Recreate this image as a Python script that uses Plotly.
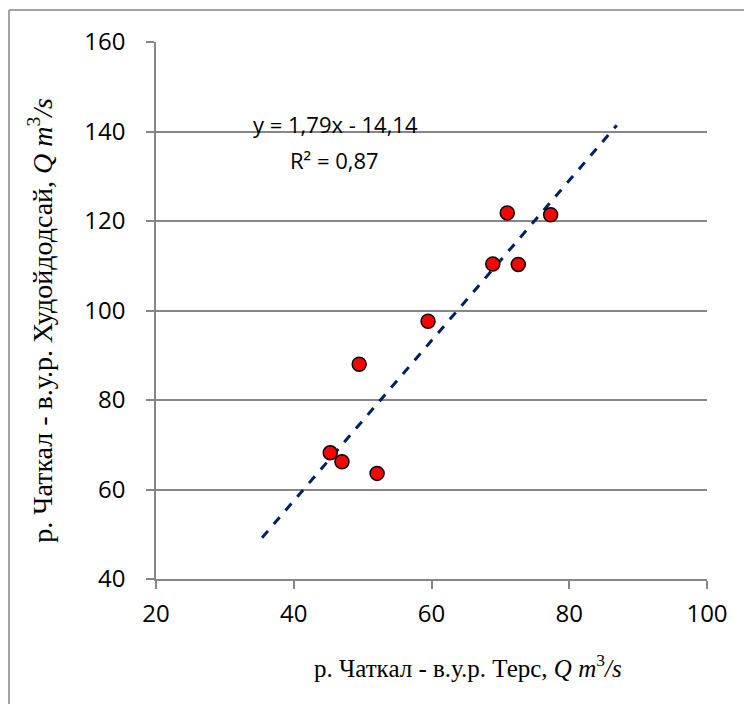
import plotly.graph_objects as go

# Data
x_ters = [45.3, 47.0, 52.1, 49.5, 59.5, 68.9, 72.6, 71.0, 77.3]
y_khudoidodsai = [68.2, 66.2, 63.6, 88.0, 97.6, 110.4, 110.3, 121.8, 121.4]

# Trendline from the chart's label y = 1,79x - 14,14, drawn over x range
slope = 1.79
intercept = -14.14
trend_x = [35.4, 86.9]
trend_y = [slope * v + intercept for v in trend_x]

x_ticks = [20, 40, 60, 80, 100]
y_ticks = [40, 60, 80, 100, 120, 140, 160]

# page body has an 8px margin; work in page coords and shift
OFF = 8
W, H = 744, 696
L, R, T, B = 156 - OFF, 707 - OFF, 42 - OFF, 579.5 - OFF

fig = go.Figure()
fig.add_trace(go.Scatter(
    x=trend_x, y=trend_y, mode="lines",
    line=dict(color="#002060", width=3, dash="dash"),
    hoverinfo="skip", showlegend=False,
))
fig.add_trace(go.Scatter(
    x=x_ters, y=y_khudoidodsai, mode="markers",
    marker=dict(size=14, color="#FF0000", line=dict(color="#000000", width=1.5)),
    showlegend=False,
))

tick_font = dict(family="Open Sans, Liberation Sans, Arial", size=24, color="#000000")
title_family = "Liberation Serif, Times New Roman, serif"

fig.update_xaxes(
    range=[20, 100], tickvals=x_ticks, ticktext=[str(v) for v in x_ticks],
    showgrid=False, zeroline=False,
    showline=True, linecolor="#868686", linewidth=1.5,
    ticks="outside", ticklen=8, tickcolor="#868686", tickwidth=1.5,
    tickfont=tick_font, ticklabelstandoff=4,
)
fig.update_yaxes(
    range=[40, 160], tickvals=y_ticks, ticktext=[str(v) for v in y_ticks],
    showgrid=True, gridcolor="#868686", gridwidth=1.5, zeroline=False,
    showline=True, linecolor="#868686", linewidth=1.5,
    ticks="outside", ticklen=8, tickcolor="#868686", tickwidth=1.5,
    tickfont=tick_font, ticklabelstandoff=16,
)

pw = R - L
ph = B - T
def px(xp):
    return (xp - OFF - L) / pw
def py(yp):
    return (B - (yp - OFF)) / ph

# outer chart border (left and top visible)
fig.add_shape(type="line", xref="paper", yref="paper",
              x0=px(9), x1=px(9), y0=py(10), y1=py(720),
              line=dict(color="#868686", width=1.5))
fig.add_shape(type="line", xref="paper", yref="paper",
              x0=px(9), x1=px(760), y0=py(10), y1=py(10),
              line=dict(color="#868686", width=1.5))

# axis titles
fig.add_annotation(x=px(468), y=py(667), xref="paper", yref="paper",
                   text="р. Чаткал - в.у.р. Терс, <i>Q m</i><sup>3</sup><i>/s</i>",
                   showarrow=False, xanchor="center", yanchor="middle",
                   font=dict(family=title_family, size=25, color="#000000"))
fig.add_annotation(x=px(41), y=py(321), xref="paper", yref="paper",
                   text="р. Чаткал - в.у.р. Худойдодсай, <i>Q m</i><sup>3</sup><i>/s</i>",
                   showarrow=False, xanchor="center", yanchor="middle", textangle=-90,
                   font=dict(family=title_family, size=28, color="#000000"))

eq_font = dict(family="Open Sans, Liberation Sans, Arial", size=22, color="#000000")
fig.add_annotation(x=px(335), y=py(124), xref="paper", yref="paper",
                   text="y = 1,79x - 14,14", showarrow=False, font=eq_font,
                   xanchor="center", yanchor="middle")
fig.add_annotation(x=px(334), y=py(160), xref="paper", yref="paper",
                   text="R² = 0,87", showarrow=False, font=eq_font,
                   xanchor="center", yanchor="middle")

fig.update_layout(
    width=W, height=H,
    margin=dict(l=L, r=W - R, t=T, b=H - B, pad=0),
    paper_bgcolor="#FFFFFF", plot_bgcolor="#FFFFFF",
    showlegend=False,
)

fig.write_html("out.html")
